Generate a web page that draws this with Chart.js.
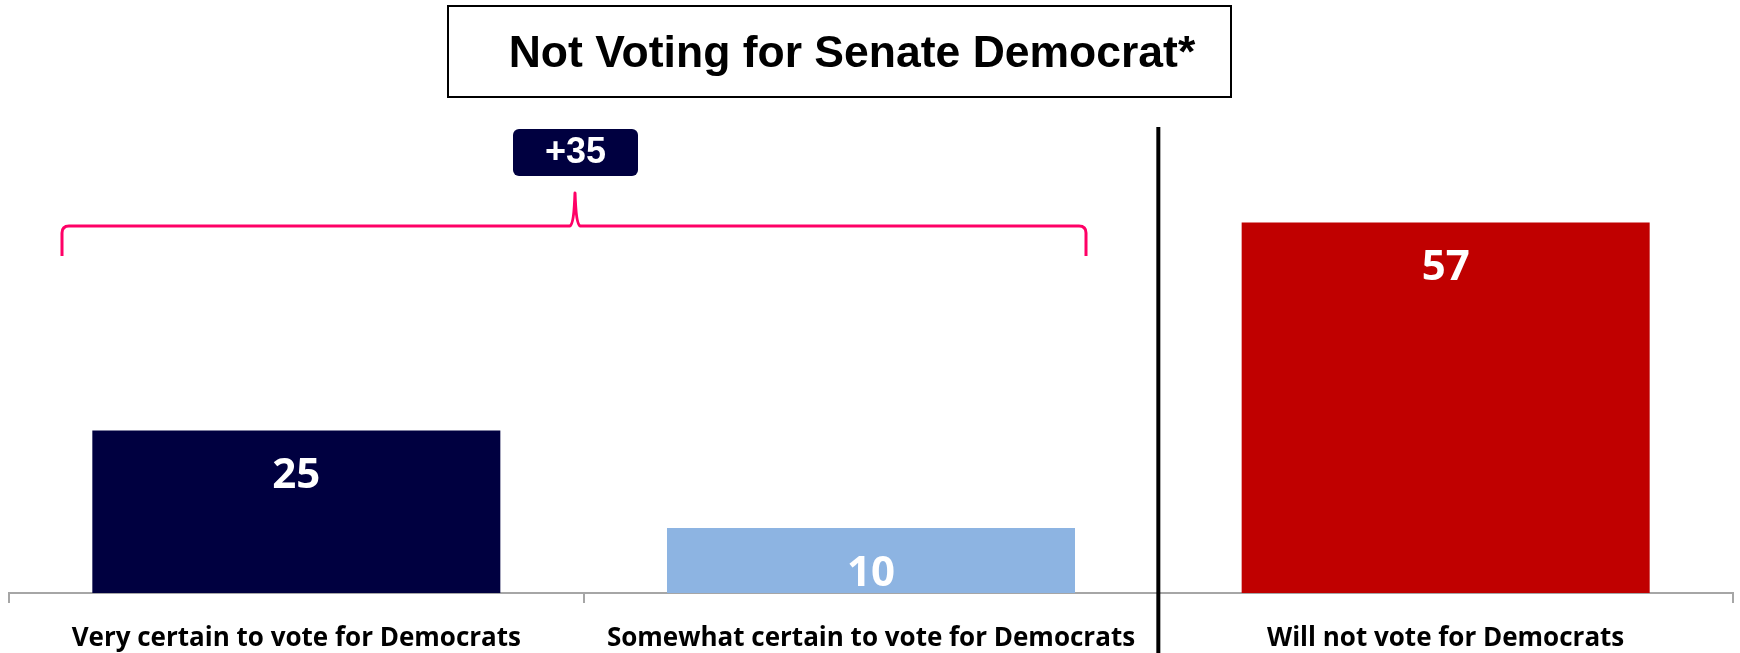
<!DOCTYPE html>
<html>
<head>
<meta charset="utf-8">
<script src="https://cdn.jsdelivr.net/npm/chart.js@4/dist/chart.umd.min.js"></script>
<style>
  html, body { margin: 0; padding: 0; background: #fff; }
  #wrap { position: relative; width: 1740px; height: 653px; }
  #title {
    position: absolute; left: 447px; top: 5px; width: 756px; height: 89px; padding-left: 25px;
    border: 2px solid #000; display: flex; align-items: center; justify-content: center;
    font-family: "Liberation Sans", Arial, sans-serif; font-weight: bold; font-size: 44.5px; color: #000;
  }
  canvas { position: absolute; left: 0; top: 0; }
</style>
</head>
<body>
<div id="wrap">
  <canvas id="myChart" width="1740" height="653"></canvas>
  <div id="title">Not Voting for Senate Democrat*</div>
</div>
<script>
categories = ["Very certain to vote for Democrats", "Somewhat certain to vote for Democrats", "Will not vote for Democrats"];
values = [25, 10, 57];
barColors = ["#000040", "#8db4e2", "#c00000"];
yMax = 80;

// sum of the two "certain" groups, shown over the brace
gapLabel = "+" + (values[0] + values[1]);

let extras = {
  id: 'extras',
  afterDatasetsDraw(chart) {
    let c = chart.ctx;
    let x = chart.scales.x;
    let bars = chart.getDatasetMeta(0).data;

    // value labels inside bars
    c.save();
    c.fillStyle = '#fff';
    c.font = 'bold 42px "Open Sans"';
    c.textAlign = 'center';
    c.textBaseline = 'middle';
    for (i = 0; i < bars.length; i++) {
      c.fillText(values[i], bars[i].x, bars[i].y + 46);
    }
    c.restore();

    // vertical separator between 2nd and 3rd group
    let sepX = (x.getPixelForValue(1) + x.getPixelForValue(2)) / 2;
    c.save();
    c.strokeStyle = '#000';
    c.lineWidth = 4;
    c.beginPath();
    c.moveTo(sepX, 127);
    c.lineTo(sepX, 653);
    c.stroke();
    c.restore();

    // brace over the first two groups
    let L = 62, R = 1086, C = 575, yb = 226, yEnd = 256, yPeak = 193;
    c.save();
    c.strokeStyle = '#ff0066';
    c.lineWidth = 3;
    c.lineJoin = 'round';
    c.beginPath();
    c.moveTo(L, yEnd);
    c.lineTo(L, yb + 7);
    c.quadraticCurveTo(L, yb, L + 7, yb);
    c.lineTo(C - 5, yb);
    c.quadraticCurveTo(C - 1, yb - 2, C, yPeak);
    c.quadraticCurveTo(C + 1, yb - 2, C + 5, yb);
    c.lineTo(R - 7, yb);
    c.quadraticCurveTo(R, yb, R, yb + 7);
    c.lineTo(R, yEnd);
    c.stroke();

    // +35 box
    let bx = 513, by = 129, bw = 125, bh = 47;
    c.fillStyle = '#000040';
    c.beginPath();
    c.roundRect(bx, by, bw, bh, 6);
    c.fill();
    c.fillStyle = '#fff';
    c.font = 'bold 36px "Liberation Sans"';
    c.textAlign = 'center';
    c.textBaseline = 'middle';
    c.fillText(gapLabel, bx + bw / 2, by + bh / 2 + 1);
    c.restore();
  }
};

let ctx = document.getElementById('myChart');
new Chart(ctx, {
  type: 'bar',
  data: {
    labels: categories,
    datasets: [{
      data: values,
      backgroundColor: barColors,
      borderWidth: 0,
      categoryPercentage: 0.71,
      barPercentage: 1
    }]
  },
  options: {
    responsive: false,
    animation: false,
    layout: { padding: { top: 73, left: 9, right: 7, bottom: 0 } },
    plugins: { legend: { display: false }, tooltip: { enabled: false } },
    scales: {
      x: {
        offset: true,
        grid: { display: true, drawOnChartArea: false, drawTicks: true, tickLength: 10, color: '#a6a6a6', lineWidth: 2, offset: true },
        border: { display: true, color: '#a6a6a6', width: 2 },
        ticks: { color: '#000', padding: 20, font: { family: 'Open Sans', weight: 'bold', size: 26 } },
        afterFit(scale) { scale.height = 60; }
      },
      y: { display: false, min: 0, max: yMax }
    }
  },
  plugins: [extras]
});
</script>
</body>
</html>
